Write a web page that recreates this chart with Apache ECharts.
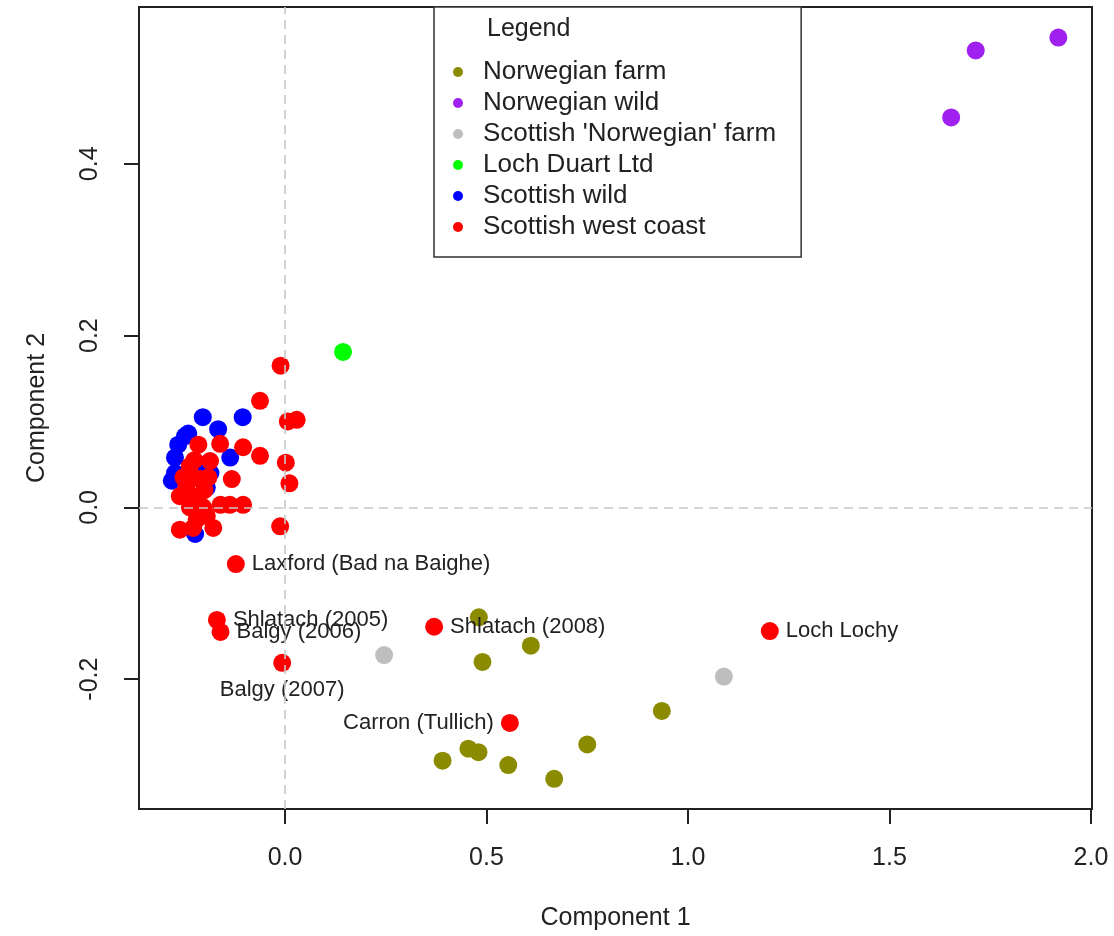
<!DOCTYPE html>
<html>
<head>
<meta charset="utf-8">
<script src="https://cdn.jsdelivr.net/npm/echarts@6/dist/echarts.min.js"></script>
<style>
  html, body { margin: 0; padding: 0; background: #fff; }
  #chart { width: 1114px; height: 936px; }
</style>
</head>
<body>
<div id="chart"></div>
<script>
// values (Component 1, Component 2)
var groupNames = ["Norwegian farm", "Norwegian wild", "Scottish 'Norwegian' farm",
                  "Loch Duart Ltd", "Scottish wild", "Scottish west coast"];

var norwegianFarm = [
    [0.481, -0.128], [0.610, -0.161], [0.490, -0.180], [0.935, -0.237], [0.750, -0.276],
    [0.391, -0.295], [0.455, -0.281], [0.480, -0.285], [0.554, -0.300], [0.668, -0.316]
];
var norwegianWild = [[1.653, 0.454], [1.714, 0.532], [1.919, 0.547]];
var scotNorwegianFarm = [[0.246, -0.172], [1.089, -0.197]];
var lochDuart = [[0.144, 0.181]];
var scottishWild = [
    [-0.204, 0.105], [-0.105, 0.105], [-0.166, 0.091], [-0.240, 0.086], [-0.248, 0.083],
    [-0.265, 0.073], [-0.273, 0.058], [-0.136, 0.058], [-0.273, 0.040], [-0.281, 0.031],
    [-0.194, 0.023], [-0.223, -0.031], [-0.200, 0.050], [-0.210, 0.000], [-0.185, 0.040]
];
var westCoast = [
    [-0.011, 0.165], [-0.062, 0.124], [0.007, 0.100], [0.029, 0.102], [-0.161, 0.074],
    [-0.104, 0.070], [-0.215, 0.073], [-0.062, 0.060], [0.002, 0.052], [0.011, 0.028],
    [-0.132, 0.033], [-0.012, -0.022], [-0.186, 0.054], [-0.236, 0.048], [-0.252, 0.035],
    [-0.211, 0.033], [-0.261, 0.013], [-0.228, 0.013], [-0.236, 0.000], [-0.203, 0.000],
    [-0.160, 0.003], [-0.137, 0.003], [-0.104, 0.003], [-0.219, -0.014], [-0.194, -0.010],
    [-0.261, -0.026], [-0.228, -0.024], [-0.178, -0.024], [-0.245, 0.025], [-0.200, 0.020],
    [-0.225, 0.055], [-0.190, 0.035]
];
// named west coast sites
var siteNames = ["Laxford (Bad na Baighe)", "Shlatach (2005)", "Balgy (2006)", "Balgy (2007)",
                 "Shlatach (2008)", "Carron (Tullich)", "Loch Lochy"];
var sitePoints = [[-0.122, -0.066], [-0.169, -0.131], [-0.160, -0.145], [-0.007, -0.181],
                  [0.370, -0.139], [0.558, -0.251], [1.203, -0.144]];

var xTicks = [0, 0.5, 1, 1.5, 2];
var yTicks = [-0.2, 0, 0.2, 0.4];

var colors = ['#8B8B00', '#A020F0', '#BEBEBE', '#00FF00', '#0000FF', '#FF0000'];
var groupPoints = [norwegianFarm, norwegianWild, scotNorwegianFarm, lochDuart, scottishWild, westCoast];

var FONT = 'Arial, "Liberation Sans", sans-serif';
var INK = '#222';

var labelSide = { 'Balgy (2007)': 'bottom', 'Carron (Tullich)': 'left' };

const buildSeries = () => {
    let list = [];
    // dashed reference lines at 0, under the points
    list.push({
        type: 'scatter', name: 'ref', data: [], z: 1, silent: true,
        markLine: {
            silent: true, symbol: 'none', animation: false,
            label: { show: false },
            lineStyle: { color: '#c8c8c8', type: [9, 6], width: 1.6 },
            data: [{ xAxis: 0 }, { yAxis: 0 }]
        }
    });
    groupNames.forEach((name, i) => {
        let data = groupPoints[i].map(p => ({ value: p }));
        if (name === "Scottish west coast") {
            siteNames.forEach((s, k) => {
                data.push({
                    value: sitePoints[k],
                    name: s,
                    label: {
                        show: true,
                        position: labelSide[s] || 'right',
                        distance: 7,
                        formatter: '{b}',
                        fontSize: 22,
                        fontFamily: FONT,
                        color: INK
                    }
                });
            });
        }
        list.push({
            type: 'scatter',
            name: name,
            z: 2,
            symbol: 'circle',
            symbolSize: 18,
            itemStyle: { color: colors[i], opacity: 1 },
            data: data
        });
    });
    return list;
};

const getOption = () => ({
    animation: false,
    title: {
        text: 'Legend',
        left: 487, top: 17, padding: 0,
        textStyle: { fontSize: 25, fontWeight: 'normal', fontFamily: FONT, color: INK }
    },
    legend: {
        data: groupNames,
        orient: 'vertical',
        left: 434, top: 7,
        padding: [52, 25, 17, 19],
        itemGap: 5,
        itemWidth: 10, itemHeight: 10,
        icon: 'circle',
        selectedMode: false,
        borderColor: '#333', borderWidth: 1.5,
        backgroundColor: '#fff',
        textStyle: { fontSize: 26, lineHeight: 26, fontFamily: FONT, color: INK, padding: [0, 0, 0, 15] }
    },
    grid: {
        left: 139, right: 22, top: 7, bottom: 126,
        show: true, borderColor: INK, borderWidth: 2, backgroundColor: 'transparent'
    },
    xAxis: {
        type: 'value', min: -0.3623, max: 2.0025,
        name: 'Component 1', nameLocation: 'middle', nameGap: 97,
        nameTextStyle: { fontSize: 25, fontFamily: FONT, color: INK },
        splitLine: { show: false },
        axisLine: { show: false, onZero: false },
        axisTick: { show: true, length: 15, customValues: xTicks, lineStyle: { color: INK, width: 2 } },
        axisLabel: {
            customValues: xTicks, margin: 37, fontSize: 25, fontFamily: FONT, color: INK,
            formatter: v => v.toFixed(1)
        }
    },
    yAxis: {
        type: 'value', min: -0.3512, max: 0.5826,
        name: 'Component 2', nameLocation: 'middle', nameGap: 89, nameRotate: 90,
        nameTextStyle: { fontSize: 25, fontFamily: FONT, color: INK },
        splitLine: { show: false },
        axisLine: { show: false, onZero: false },
        axisTick: { show: true, length: 15, customValues: yTicks, lineStyle: { color: INK, width: 2 } },
        axisLabel: {
            customValues: yTicks, margin: 36, rotate: 90, fontSize: 25, fontFamily: FONT, color: INK,
            formatter: v => v.toFixed(1)
        }
    },
    series: buildSeries()
});

const initChart = () => {
    const chart = echarts.init(document.getElementById('chart'), null, { renderer: 'canvas' });
    chart.setOption(getOption());
};

initChart();
</script>
</body>
</html>
